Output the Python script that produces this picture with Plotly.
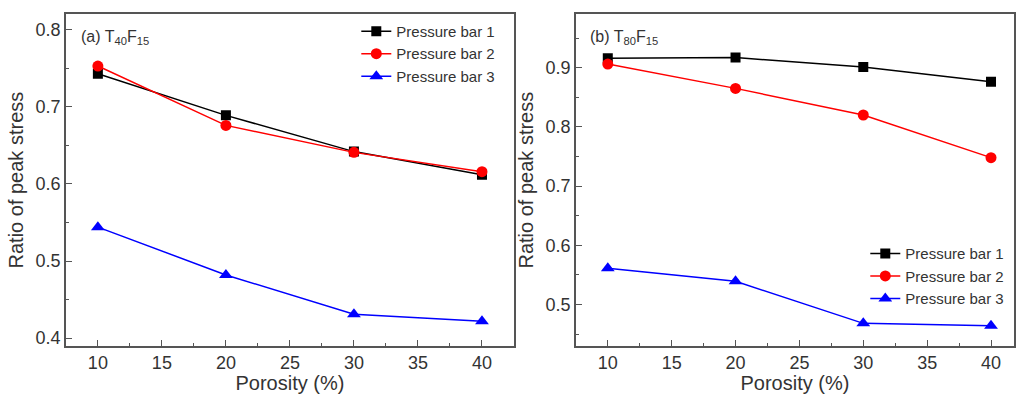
import plotly.graph_objects as go

porosity = [10, 20, 30, 40]
series_names = ["Pressure bar 1", "Pressure bar 2", "Pressure bar 3"]

# (a) T40F15
a_bar1 = [0.743, 0.689, 0.642, 0.612]
a_bar2 = [0.753, 0.676, 0.641, 0.616]
a_bar3 = [0.544, 0.482, 0.431, 0.422]

# (b) T80F15
b_bar1 = [0.916, 0.917, 0.901, 0.876]
b_bar2 = [0.906, 0.865, 0.820, 0.748]
b_bar3 = [0.561, 0.539, 0.468, 0.464]

colors = ["#000000", "#ff0000", "#0000ff"]
symbols = ["square", "circle", "triangle-up"]
msizes = [10, 11, 12]

W, H = 1016, 394
fig = go.Figure()

for i, (ys, name) in enumerate(zip([a_bar1, a_bar2, a_bar3], series_names)):
    fig.add_trace(go.Scatter(
        x=porosity, y=ys, name=name, mode="lines+markers",
        line=dict(color=colors[i], width=1.5),
        marker=dict(symbol=symbols[i], size=msizes[i], color=colors[i]),
        xaxis="x", yaxis="y", legend="legend"))

for i, (ys, name) in enumerate(zip([b_bar1, b_bar2, b_bar3], series_names)):
    fig.add_trace(go.Scatter(
        x=porosity, y=ys, name=name, mode="lines+markers",
        line=dict(color=colors[i], width=1.5),
        marker=dict(symbol=symbols[i], size=msizes[i], color=colors[i]),
        xaxis="x2", yaxis="y2", legend="legend2"))

axcol = "#555555"
font_fam = "Liberation Sans, Arial, sans-serif"
txtcol = "#333333"

def xax(domain, rng, anchor):
    return dict(domain=domain, range=rng, anchor=anchor,
                showline=True, mirror=True, linecolor=axcol, linewidth=1.5,
                ticks="inside", ticklen=6, tickcolor=axcol, tickwidth=1.2,
                tick0=10, dtick=5, showgrid=False, zeroline=False,
                minor=dict(ticks="inside", ticklen=3, dtick=2.5, tick0=10, tickcolor=axcol),
                tickfont=dict(size=18, color=txtcol, family=font_fam),
                title=dict(text="Porosity (%)", font=dict(size=20, color=txtcol, family=font_fam), standoff=2))

def yax(domain, rng, anchor):
    return dict(domain=domain, range=rng, anchor=anchor,
                showline=True, mirror=True, linecolor=axcol, linewidth=1.5,
                ticks="inside", ticklen=6, tickcolor=axcol, tickwidth=1.2,
                tick0=0.4, dtick=0.1, tickformat=".1f", showgrid=False, zeroline=False,
                minor=dict(ticks="inside", ticklen=3, dtick=0.05, tick0=0.4, tickcolor=axcol),
                tickfont=dict(size=18, color=txtcol, family=font_fam),
                title=dict(text="Ratio of peak stress", font=dict(size=20, color=txtcol, family=font_fam), standoff=6))

ydom = [1 - 348.5 / H, 1 - 14.5 / H]
fig.update_layout(
    width=W, height=H,
    margin=dict(l=0, r=0, t=0, b=0),
    paper_bgcolor="white", plot_bgcolor="white",
    font=dict(family=font_fam, color=txtcol),
    xaxis=xax([66 / W, 515 / W], [7.5, 42.5], "y"),
    yaxis=yax(ydom, [0.39, 0.82], "x"),
    xaxis2=xax([577 / W, 1.0], [7.5, 41.8], "y2"),
    yaxis2=yax(ydom, [0.43, 0.99], "x2"),
    legend=dict(x=357 / W, y=1 - 15 / H, xanchor="left", yanchor="top",
                bgcolor="rgba(0,0,0,0)", font=dict(size=15, color=txtcol, family=font_fam),
                tracegroupgap=0, itemwidth=30),
    legend2=dict(x=867 / W, y=1 - 239 / H, xanchor="left", yanchor="top",
                 bgcolor="rgba(0,0,0,0)", font=dict(size=15, color=txtcol, family=font_fam),
                 tracegroupgap=0, itemwidth=30),
    annotations=[
        dict(text="(a) T<sub>40</sub>F<sub>15</sub>", x=79 / W, y=1 - 38 / H, xref="paper", yref="paper",
             xanchor="left", yanchor="middle", showarrow=False, font=dict(size=16, color=txtcol, family=font_fam)),
        dict(text="(b) T<sub>80</sub>F<sub>15</sub>", x=589 / W, y=1 - 38 / H, xref="paper", yref="paper",
             xanchor="left", yanchor="middle", showarrow=False, font=dict(size=16, color=txtcol, family=font_fam)),
    ],
)

fig.write_html("out.html")
